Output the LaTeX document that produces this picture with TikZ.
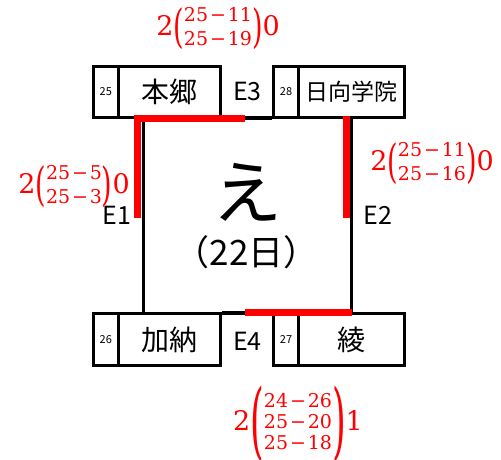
\documentclass[tikz,border=0pt]{standalone}
\usepackage{fontspec}
\usepackage{graphicx}
\newfontfamily\jp{Noto Sans CJK JP}
\newfontfamily\rf{DejaVu Serif}
\definecolor{hl}{RGB}{255,0,0}
\newcommand{\mn}{\hspace{0.1em}−\hspace{0.1em}}
% #1 left, #2 rows, #3 right, #4 row skip, #5 paren xscale, #6 paren yscale
\newcommand{\redlab}[6]{{\rf\fontsize{27}{27}\selectfont #1$\vcenter{\hbox{\scalebox{#5}[#6]{(}}}\vcenter{\hbox{\fontsize{19}{#4}\selectfont\begin{tabular}{@{}c@{}}#2\end{tabular}}}\vcenter{\hbox{\scalebox{#5}[#6]{)}}}$#3}}
\begin{document}
\begin{tikzpicture}[x=1pt,y=-1pt,
  bx/.style={draw=black, line width=3pt, fill=white, inner sep=0pt, minimum height=51pt, font=\jp\fontsize{28}{28}\selectfont},
  num/.style={bx, minimum width=25pt, font=\jp\fontsize{11}{11}\selectfont},
  elab/.style={inner sep=0pt, font=\jp\fontsize{25}{25}\selectfont},
  rlab/.style={inner sep=0pt, text=hl},
  hlline/.style={draw=hl, line width=7.5pt},
  edge/.style={draw=black, line width=3pt}]
\useasboundingbox (0,0) rectangle (501,459);
% main box
\node[draw, line width=3pt, minimum width=208pt, minimum height=196.5pt, inner sep=0pt] (main) at (247.5,215.25) {};
\node[inner sep=0pt, font=\jp\fontsize{70}{70}\selectfont] (e) at (247,192) {え};
\node[inner sep=0pt, font=\jp\fontsize{35}{35}\selectfont] (d) at (246.5,252) {（22日）};
% top row
\node[num] (n25) at (105.75,91.5) {25};
\node[bx, minimum width=102.5pt] (hongo) at (169.25,91.5) {本郷};
\node[num] (n28) at (286,91.5) {28};
\node[bx, minimum width=105.5pt, font=\jp\fontsize{23}{23}\selectfont] (hinata) at (351.25,91.5) {日向学院};
\draw[edge] (hongo.south east) -- (n28.south west);
% bottom row
\node[num, minimum height=52pt] (n26) at (105.75,339.5) {26};
\node[bx, minimum height=52pt, minimum width=102.5pt] (kano) at (169.25,339.5) {加納};
\node[num, minimum height=52pt] (n27) at (286,339.5) {27};
\node[bx, minimum height=52pt, minimum width=105.5pt] (aya) at (351.25,339.5) {綾};
\draw[edge] (kano.north east) -- (n27.north west);
% exits
\node[elab] (e1) at (117,215) {E1};
\node[elab] (e2) at (378,215) {E2};
\node[elab] (e3) at (247.5,91) {E3};
\node[elab] (e4) at (247.5,341) {E4};
% red highlights
\coordinate (ra) at (137.5,218);
\coordinate (rb) at (137.5,118.5);
\coordinate (rc) at (245,118.5);
\coordinate (rd) at (346.5,116);
\coordinate (re) at (346.5,218);
\coordinate (rf) at (245,312.5);
\coordinate (rg) at (352,312.5);
\draw[hlline] (ra) -- (rb) -- (rc);
\draw[hlline] (rd) -- (re);
\draw[hlline] (rf) -- (rg);
% red labels
\node[rlab] (l3) at (218,29) {\redlab{2}{25\mn11\\25\mn19}{0}{24}{1}{1.7}};
\node[rlab] (l1) at (74,187) {\redlab{2}{25\mn5\\25\mn3}{0}{24}{1}{1.7}};
\node[rlab] (l2) at (432,164) {\redlab{2}{25\mn11\\25\mn16}{0}{24}{1}{1.7}};
\node[rlab] (l4) at (298,424) {\redlab{2}{24\mn26\\25\mn20\\25\mn18}{1}{21}{1.3}{3.1}};
\end{tikzpicture}
\end{document}
